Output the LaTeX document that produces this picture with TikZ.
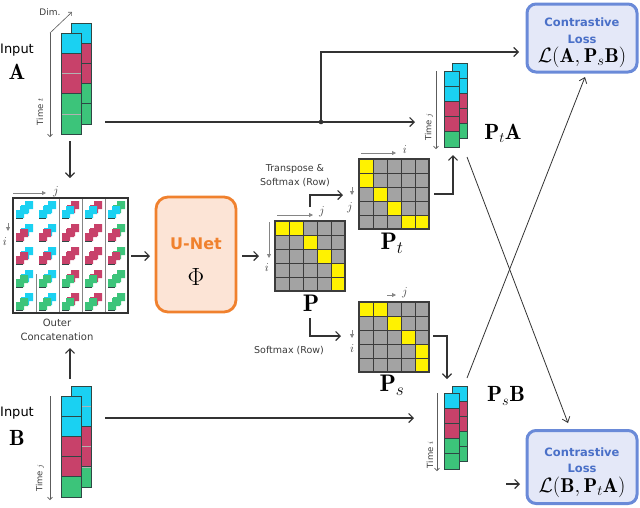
\documentclass[tikz,border=0pt]{standalone}
\usepackage{fontspec}
\newfontfamily\dvs{DejaVu Sans}
\usetikzlibrary{arrows.meta}
\definecolor{cy}{HTML}{1AD1F2}
\definecolor{rd}{HTML}{C8416A}
\definecolor{gr}{HTML}{3CC47A}
\definecolor{edge}{HTML}{2E4744}
\definecolor{mgray}{HTML}{A3A3A3}
\definecolor{gridc}{HTML}{3C3C3C}
\definecolor{myel}{HTML}{FFF200}
\definecolor{unetfill}{HTML}{FCE4D6}
\definecolor{unetdraw}{HTML}{F0812E}
\definecolor{lossfill}{HTML}{E4E8F8}
\definecolor{lossdraw}{HTML}{6A8AD8}
\definecolor{losstext}{HTML}{4A70C8}
\definecolor{linec}{HTML}{333333}
\definecolor{anngray}{HTML}{858585}
\definecolor{textgray}{HTML}{3A3A3A}
% staircase glyph, bottom-left corner at (#1,#2)
\newcommand\stair[3]{\fill[#3] (#1,#2) -- ++(8,0) -- ++(0,-4) -- ++(4,0) -- ++(0,-8) -- ++(-8,0) -- ++(0,4) -- ++(-4,0) -- cycle;}
% column of bordered cells: x, y, w, h, colours
\newcommand\cellcol[5]{\foreach \cc [count=\k from 0] in {#5}{\filldraw[fill=\cc,draw=edge,line width=0.7pt] (#1,{#2+\k*#4}) rectangle ++(#3,#4);}}
% column with faint inner lines
\newcommand\softcol[5]{\foreach \cc [count=\k from 0] in {#5}{\filldraw[fill=\cc,draw=gray!60,line width=0.5pt] (#1,{#2+\k*#4}) rectangle ++(#3,#4);}}
% 5x5 matrix at top-left (#1,#2), yellow cells r/c
\newcommand\pmat[3]{%
  \fill[mgray] (#1,#2) rectangle ++(70,70);
  \foreach \r/\c in {#3}{\fill[myel] ({#1+(\c-1)*14},{#2+(\r-1)*14}) rectangle ++(14,14);}
  \foreach \k in {1,...,4}{\draw[gridc,line width=0.8pt] ({#1+\k*14},#2) -- ++(0,70);
    \draw[gridc,line width=0.8pt] (#1,{#2+\k*14}) -- ++(70,0);}
  \draw[gridc,line width=1.1pt] (#1,#2) rectangle ++(70,70);}
\begin{document}
\begin{tikzpicture}[x=1pt,y=-1pt,
  conn/.style={draw=linec,line width=1.2pt,-{Straight Barb[length=4.5pt,width=9pt]}},
  xconn/.style={draw=linec,line width=0.8pt,-{Straight Barb[length=5pt,width=8pt]}},
  ann/.style={draw=anngray,line width=0.8pt,-{Triangle[length=4pt,width=4pt]}},
  timeax/.style={draw=linec!80,line width=0.6pt,-{Straight Barb[length=2.5pt,width=5pt]}},
  small/.style={font=\dvs\fontsize{10}{12}\selectfont,text=textgray,inner sep=0},
  tiny/.style={font=\dvs\fontsize{8.5}{9}\selectfont,text=textgray,inner sep=0},
  idx/.style={font=\fontsize{12}{13}\selectfont,text=textgray,inner sep=0},
  matbox/.style={minimum width=70pt,minimum height=70pt,inner sep=0},
  lossbox/.style={draw=lossdraw,fill=lossfill,line width=3pt,rounded corners=9pt,minimum width=110pt,inner sep=0},
  losstxt/.style={font=\dvs\bfseries\fontsize{11.5}{13}\selectfont,text=losstext,inner sep=0},
  lossf/.style={font=\fontsize{20}{22}\selectfont,inner sep=0},
  big/.style={font=\fontsize{22}{24}\selectfont,inner sep=0},
  bigger/.style={font=\fontsize{24}{26}\selectfont,inner sep=0}]
\useasboundingbox (0,0) rectangle (640,507);

% ---------- Input A ----------
\node[font=\dvs\fontsize{13}{15}\selectfont,inner sep=0] (inA) at (17,50) {Input};
\node[big] (Alab) at (17,72) {$\mathbf{A}$};
\cellcol{71}{23}{20}{20.2}{cy,rd,rd,gr,gr}
\softcol{61}{33}{20}{20.2}{cy,rd,rd,gr,gr}
\draw[edge,line width=0.7pt] (61,33) rectangle (81,53.2) (61,53.2) rectangle (81,93.6) (61,93.6) rectangle (81,134);
\node[minimum width=30pt,minimum height=111pt,inner sep=0] (seqA) at (76,78.5) {};
\coordinate (dimS) at (50,33);
\coordinate (dimE) at (72,12);
\coordinate (timeAe) at (50,137);
\draw[timeax] (dimS) -- (timeAe);
\draw[timeax] (dimS) -- (dimE);
\node[tiny,font=\dvs\fontsize{9}{10}\selectfont] (dim) at (50,12) {Dim.};
\node[tiny,rotate=90] (timeA) at (40,112) {Time $t$};

% ---------- Input B ----------
\node[font=\dvs\fontsize{13}{15}\selectfont,inner sep=0] (inB) at (17,413) {Input};
\node[big] (Blab) at (17,438) {$\mathbf{B}$};
\softcol{71}{386}{20}{20.2}{cy,cy,rd,rd,gr}
\draw[edge,line width=0.7pt] (71,386) rectangle (91,426.4) (71,426.4) rectangle (91,466.8) (71,466.8) rectangle (91,487);
\cellcol{61}{396}{20}{20.2}{cy,cy,rd,rd,gr}
\node[minimum width=30pt,minimum height=111pt,inner sep=0] (seqB) at (76,441.5) {};
\coordinate (timeBs) at (50,396);
\coordinate (timeBe) at (50,500);
\draw[timeax] (timeBs) -- (timeBe);
\node[tiny,rotate=90] (timeB) at (40,478) {Time $j$};

% ---------- Outer concatenation grid ----------
\foreach \rc [count=\r from 0] in {cy,rd,rd,gr,gr}{
  \foreach \cc [count=\c from 0] in {cy,cy,rd,rd,gr}{
    \stair{13+23*\c+8}{198+23*\r+15}{\cc}
    \stair{13+23*\c+3}{198+23*\r+20}{\rc}
    \draw[edge,line width=0.6pt] (13+23*\c+3,198+23*\r+20.5) -- ++(7,0);
  }}
\foreach \xx in {59,82,105}{\draw[anngray,line width=1pt] (\xx,198) -- (\xx,313);}
\draw[anngray,line width=1pt] (36,274) -- (36,313);
\node[draw=linec,line width=1.2pt,minimum size=115pt,inner sep=0] (grid) at (70.5,255.5) {};
\coordinate (gjs) at (13,193); \coordinate (gje) at (46,193);
\draw[ann] (gjs) -- (gje);
\node[idx] (gj) at (56,192) {$j$};
\coordinate (gis) at (8,223); \coordinate (gie) at (8,231);
\draw[ann] (gis) -- (gie);
\node[idx] (gi) at (5,242) {$i$};
\node[small] (outer) at (57,323) {Outer};
\node[small] (concat) at (57,337) {Concatenation};

% ---------- U-Net ----------
\node[draw=unetdraw,fill=unetfill,line width=2.8pt,rounded corners=12pt,minimum width=80pt,minimum height=115pt,inner sep=0] (unet) at (196,254.5) {};
\node[font=\dvs\bfseries\fontsize{16}{18}\selectfont,text=unetdraw,inner sep=0] (unetlbl) at (196,244) {U-Net};
\node[font=\fontsize{27}{29}\selectfont,inner sep=0] (phi) at (196,277) {$\Phi$};

% ---------- Matrices ----------
\pmat{275}{221}{1/1,1/2,2/3,3/4,4/5,5/5}
\node[matbox] (P) at (310,256) {};
\node[bigger] (Plab) at (311,303) {$\mathbf{P}$};
\coordinate (pjs) at (277,215); \coordinate (pje) at (313,215);
\draw[ann] (pjs) -- (pje);
\node[idx] (pj) at (322,212) {$j$};
\coordinate (pis) at (269,222); \coordinate (pie) at (269,258);
\draw[ann] (pis) -- (pie);
\node[idx] (pi) at (267,268) {$i$};

\pmat{359}{159}{1/1,2/1,3/2,4/3,5/4,5/5}
\node[matbox] (Pt) at (394,194) {};
\node[bigger] (Ptlab) at (392,243) {$\mathbf{P}_t$};
\coordinate (tis) at (361,153); \coordinate (tie) at (396,153);
\draw[ann] (tis) -- (tie);
\node[idx] (ti) at (405,150) {$i$};
\coordinate (tjs) at (352,187); \coordinate (tje) at (352,195);
\draw[ann] (tjs) -- (tje);
\node[idx] (tj) at (350,208) {$j$};

\pmat{359}{302}{1/1,1/2,2/3,3/4,4/5,5/5}
\node[matbox] (Ps) at (394,337) {};
\node[bigger] (Pslab) at (392,385) {$\mathbf{P}_s$};
\coordinate (sjs) at (387,295); \coordinate (sje) at (396,295);
\draw[ann] (sjs) -- (sje);
\node[idx] (sj) at (405,293) {$j$};
\coordinate (sis) at (352,330); \coordinate (sie) at (352,338);
\draw[ann] (sis) -- (sie);
\node[idx] (si) at (352,349) {$i$};

\node[small,font=\dvs\fontsize{9.5}{11}\selectfont] (tr1) at (295,169) {Transpose \&};
\node[small,font=\dvs\fontsize{9.5}{11}\selectfont] (tr2) at (295,183) {Softmax (Row)};
\node[small,font=\dvs\fontsize{9.5}{11}\selectfont] (sm) at (289,351) {Softmax (Row)};

% ---------- P_t A ----------
\cellcol{452}{63}{15}{15.1}{cy,cy,rd,rd,gr}
\cellcol{444}{71}{15}{15.2}{cy,cy,rd,rd,gr}
\node[minimum width=23pt,minimum height=84pt,inner sep=0] (seqPtA) at (455.5,105) {};
\coordinate (tPs) at (436,71); \coordinate (tPe) at (436,149);
\draw[timeax] (tPs) -- (tPe);
\node[tiny,rotate=90] (timePt) at (429,127) {Time $j$};
\node[big] (PtAlab) at (503,133) {$\mathbf{P}_t\mathbf{A}$};

% ---------- P_s B ----------
\cellcol{452}{386}{15}{15}{cy,rd,rd,gr,gr}
\cellcol{444}{393}{15}{15.2}{cy,rd,rd,gr,gr}
\node[minimum width=23pt,minimum height=83pt,inner sep=0] (seqPsB) at (455.5,427.5) {};
\coordinate (sPs) at (437,393); \coordinate (sPe) at (437,471);
\draw[timeax] (sPs) -- (sPe);
\node[tiny,rotate=90] (timePs) at (430,455) {Time $i$};
\node[big] (PsBlab) at (506,396) {$\mathbf{P}_s\mathbf{B}$};

% ---------- Loss boxes ----------
\node[lossbox,minimum height=68pt] (lossT) at (582,38) {};
\node[losstxt] (lt1) at (582,22) {Contrastive};
\node[losstxt] (lt2) at (582,39) {Loss};
\node[lossf] (lt3) at (582,57) {$\mathcal{L}(\mathbf{A},\mathbf{P}_s\mathbf{B})$};
\node[lossbox,minimum height=73pt] (lossB) at (582,467) {};
\node[losstxt] (lb1) at (582,452) {Contrastive};
\node[losstxt] (lb2) at (582,468) {Loss};
\node[lossf] (lb3) at (582,487) {$\mathcal{L}(\mathbf{B},\mathbf{P}_t\mathbf{A})$};

% ---------- connectors ----------
\coordinate (a1) at (70,141); \coordinate (a2) at (70,178);
\draw[conn] (a1) -- (a2);
\coordinate (b1) at (70,379); \coordinate (b2) at (70,348);
\draw[conn] (b1) -- (b2);
\coordinate (g1) at (131,256); \coordinate (g2) at (150,256);
\draw[conn] (g1) -- (g2);
\coordinate (u1) at (242,256); \coordinate (u2) at (259,256);
\draw[conn] (u1) -- (u2);
\coordinate (pt1) at (310,207); \coordinate (pt2) at (343,195);
\draw[conn] (pt1) |- (pt2);
\coordinate (ps1) at (310,318); \coordinate (ps2) at (341,336);
\draw[conn] (ps1) |- (ps2);
\coordinate (r1) at (434,194); \coordinate (r2) at (453,155);
\draw[conn] (r1) -| (r2);
\coordinate (q1) at (433,336); \coordinate (q2) at (447,379);
\draw[conn] (q1) -| (q2);
\coordinate (la1) at (105,122); \coordinate (la2) at (415,122);
\coordinate (jn) at (321,122); \coordinate (lt) at (519,52);
\draw[conn] (la1) -- (la2);
\draw[conn] (jn) |- (lt);
\fill[linec] (jn) circle (2.3pt);
\coordinate (lb1c) at (105,418); \coordinate (lb2c) at (414,418);
\draw[conn] (lb1c) -- (lb2c);
\coordinate (st1) at (506,484); \coordinate (st2) at (520,484);
\draw[conn] (st1) -- (st2);
\coordinate (x1) at (467,157); \coordinate (x2) at (568,423);
\draw[xconn] (x1) -- (x2);
\coordinate (y1) at (467,378); \coordinate (y2) at (585,77);
\draw[xconn] (y1) -- (y2);
\end{tikzpicture}
\end{document}
